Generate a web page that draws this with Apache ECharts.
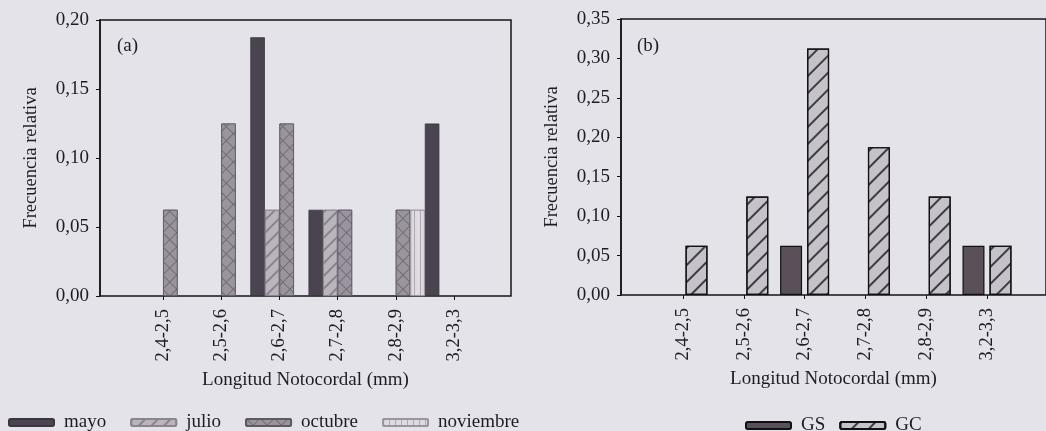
<!DOCTYPE html>
<html>
<head>
<meta charset="utf-8">
<script src="https://cdn.jsdelivr.net/npm/echarts@6/dist/echarts.min.js"></script>
<style>
html,body{margin:0;padding:0;background:#e4e3e9;}
#c{width:1046px;height:431px;}
</style>
</head>
<body>
<div id="c"></div>
<script>
// ---- data ----
const categories = ["2,4-2,5", "2,5-2,6", "2,6-2,7", "2,7-2,8", "2,8-2,9", "3,2-3,3"];
const mayo      = [0, 0, 0.1875, 0.0625, 0, 0.125];
const julio     = [0, 0, 0.0625, 0.0625, 0, 0];
const octubre   = [0.0625, 0.125, 0.125, 0.0625, 0.0625, 0];
const noviembre = [0, 0, 0, 0, 0.0625, 0];
const GS = [0, 0, 0.0625, 0, 0, 0.0625];
const GC = [0.0625, 0.125, 0.3125, 0.1875, 0.125, 0.0625];
const yTicksA = ["0,00", "0,05", "0,10", "0,15", "0,20"];
const yTicksB = ["0,00", "0,05", "0,10", "0,15", "0,20", "0,25", "0,30", "0,35"];

const FONT = "Liberation Serif";
const TXT = "#1e1c22";

function tickFmt(arr){ return v => arr[Math.round(v / 0.05)] || ""; }
// empty classes are drawn as no bar at all
const bars = arr => arr.map(v => (v === 0 ? '-' : v));

const chart = echarts.init(document.getElementById('c'), null, {renderer: 'canvas'});

const frameY = (idx, max, ticks) => ({
  gridIndex: idx, type: 'value', min: 0, max: max, interval: 0.05,
  name: 'Frecuencia relativa', nameLocation: 'middle', nameGap: 59,
  nameTextStyle: {fontFamily: FONT, fontSize: 18.5, color: TXT},
  axisLine: {show: true, lineStyle: {color: '#151515', width: 1.5}},
  axisTick: {show: true, length: 4, lineStyle: {color: '#151515'}},
  axisLabel: {fontFamily: FONT, fontSize: 19, color: TXT, margin: 11, formatter: tickFmt(ticks)},
  splitLine: {show: false}
});
const frameX = (idx) => ({
  gridIndex: idx, type: 'category', data: [''],
  name: 'Longitud Notocordal (mm)', nameLocation: 'middle', nameGap: 75,
  nameTextStyle: {fontFamily: FONT, fontSize: 19, color: TXT},
  axisLine: {show: false}, axisTick: {show: false}, axisLabel: {show: false}
});
const barX = (idx) => ({
  gridIndex: idx, type: 'category', data: categories,
  axisLine: {show: false},
  axisTick: {show: true, alignWithLabel: true, length: 4, lineStyle: {color: '#151515'}},
  axisLabel: {rotate: 90, fontFamily: FONT, fontSize: 18.5, color: TXT, margin: 13}
});
const barY = (idx, max) => ({gridIndex: idx, type: 'value', min: 0, max: max, show: false, splitLine: {show: false}});

const lineDecal = (color, gap, rot, w) => ({
  symbol: 'rect', symbolSize: 1, color: color,
  dashArrayX: [1, 0], dashArrayY: [w, gap], rotation: rot
});

const series = [
  {name: 'mayo', type: 'bar', xAxisIndex: 2, yAxisIndex: 2, data: bars(mayo),
   barGap: '0%', barCategoryGap: '0%',
   itemStyle: {color: '#4a4450', borderColor: '#3a3540', borderWidth: 0.8}},
  {name: 'julio', type: 'bar', xAxisIndex: 2, yAxisIndex: 2, data: bars(julio),
   barGap: '0%', barCategoryGap: '0%',
   itemStyle: {color: '#bab5bd', borderColor: '#8a8590', borderWidth: 0.8,
     decal: lineDecal('rgba(115,110,120,0.7)', 7, -Math.PI / 4, 1.2)}},
  {name: 'octubre', type: 'bar', xAxisIndex: 2, yAxisIndex: 2, data: bars(octubre),
   barGap: '0%', barCategoryGap: '0%',
   itemStyle: {color: '#716c76', borderColor: '#5e5964', borderWidth: 0.8,
     decal: {symbol: 'rect', symbolSize: 1, color: '#99949e', dashArrayX: [9, 1], dashArrayY: [9, 1], rotation: Math.PI / 4}}},
  {name: 'noviembre', type: 'bar', xAxisIndex: 2, yAxisIndex: 2, data: bars(noviembre),
   barGap: '0%', barCategoryGap: '0%',
   itemStyle: {color: '#dedbe2', borderColor: '#9a95a0', borderWidth: 0.8,
     decal: {symbol: 'rect', symbolSize: 1, color: 'rgba(130,125,135,0.55)', dashArrayX: [1, 5], dashArrayY: [1, 0], rotation: 0}}},
  {name: 'GS', type: 'bar', xAxisIndex: 3, yAxisIndex: 3, data: bars(GS),
   barGap: '23%', barCategoryGap: '19.4%',
   itemStyle: {color: '#5a5059', borderColor: '#111', borderWidth: 1.2}},
  {name: 'GC', type: 'bar', xAxisIndex: 3, yAxisIndex: 3, data: bars(GC),
   barGap: '23%', barCategoryGap: '19.4%',
   itemStyle: {color: '#c6c2ca', borderColor: '#111', borderWidth: 1.2,
     decal: lineDecal('rgba(40,35,45,0.85)', 10, -Math.PI / 4, 1.3)}}
];

chart.setOption({
  backgroundColor: '#e4e3e9',
  animation: false,
  title: [
    {text: '(a)', left: 112, top: 32, textStyle: {fontFamily: FONT, fontSize: 19, fontWeight: 'normal', color: TXT}},
    {text: '(b)', left: 632, top: 32, textStyle: {fontFamily: FONT, fontSize: 19, fontWeight: 'normal', color: TXT}}
  ],
  grid: [
    {left: 100, right: 535, top: 20, bottom: 135, show: true, borderColor: '#151515', borderWidth: 1.5, backgroundColor: 'transparent'},
    {left: 621, right: -4, top: 19, bottom: 136, show: true, borderColor: '#151515', borderWidth: 1.5, backgroundColor: 'transparent'},
    {left: 134, right: 563, top: 20, bottom: 135},
    {left: 652.6, right: 28.6, top: 19, bottom: 136}
  ],
  xAxis: [frameX(0), frameX(1), barX(2), barX(3)],
  yAxis: [frameY(0, 0.20, yTicksA), frameY(1, 0.35, yTicksB), barY(2, 0.20), barY(3, 0.35)],
  legend: [
    {data: ['mayo', 'julio', 'octubre', 'noviembre'], left: 3, top: 408, itemWidth: 45, itemHeight: 7, itemGap: 24,
     textStyle: {fontFamily: FONT, fontSize: 19, color: TXT, padding: [0, 0, 0, 5]}},
    {data: ['GS', 'GC'], left: 740, top: 411, itemWidth: 45, itemHeight: 7, itemGap: 14,
     textStyle: {fontFamily: FONT, fontSize: 19, color: TXT, padding: [0, 0, 0, 5]}}
  ],
  series: series
});
</script>
</body>
</html>
